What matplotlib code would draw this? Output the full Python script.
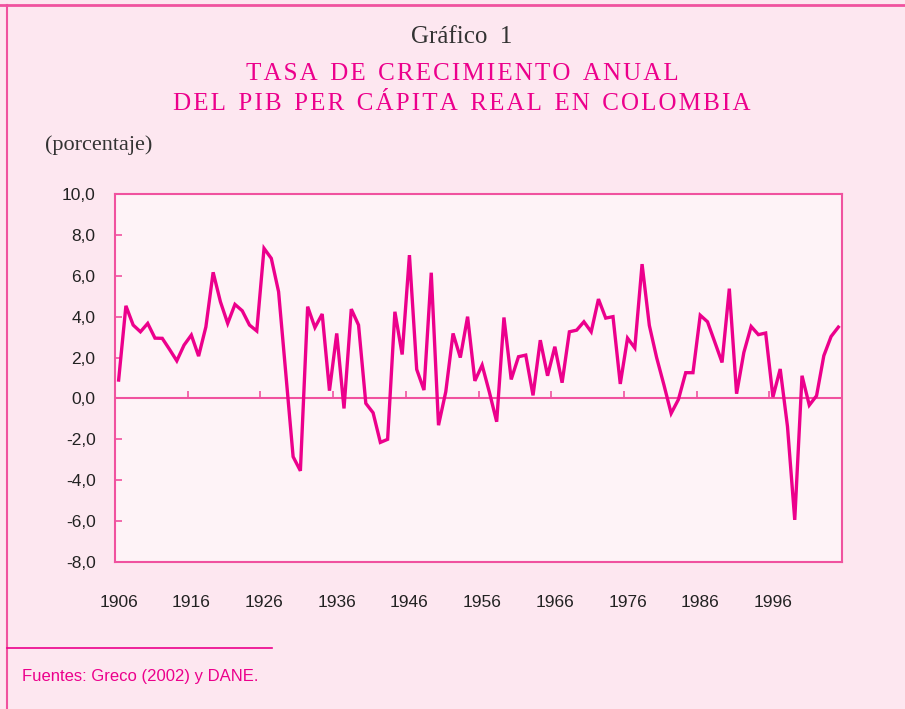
import matplotlib
matplotlib.use("Agg")
import matplotlib.pyplot as plt
from matplotlib import font_manager
from matplotlib.lines import Line2D

# tasa de crecimiento anual del PIB per capita real (%), 1906-2005
years = list(range(1906, 2006))
growth = [0.9, 4.53, 3.59, 3.26, 3.67, 2.95, 2.94, 2.4, 1.84, 2.61,
          3.1, 2.07, 3.5, 6.17, 4.73, 3.67, 4.6, 4.29, 3.59, 3.3,
          7.34, 6.85, 5.22, 1.2, -2.85, -3.54, 4.49, 3.47, 4.13, 0.38,
          3.18, -0.49, 4.37, 3.59, -0.24, -0.70, -2.15, -2.0, 4.24, 2.15,
          7.01, 1.42, 0.41, 6.15, -1.31, 0.33, 3.18, 2.0, 4.0, 0.86,
          1.63, 0.3, -1.14, 3.96, 0.93, 2.04, 2.12, 0.15, 2.85, 1.11,
          2.53, 0.77, 3.26, 3.34, 3.75, 3.26, 4.86, 3.93, 4.0, 0.71,
          2.95, 2.47, 6.57, 3.57, 2.0, 0.67, -0.73, -0.05, 1.26, 1.26,
          4.07, 3.75, 2.76, 1.76, 5.37, 0.23, 2.25, 3.52, 3.12, 3.2,
          0.07, 1.44, -1.37, -5.94, 1.11, -0.33, 0.13, 2.09, 3.03, 3.49]

xlabels = list(range(1906, 2006, 10))
yvals = [10, 8, 6, 4, 2, 0, -2, -4, -6, -8]
ylabels = [f"{v:.1f}".replace(".", ",") for v in yvals]

names = {f.name for f in font_manager.fontManager.ttflist}
sans = "Liberation Sans Narrow" if "Liberation Sans Narrow" in names else "Liberation Sans"
serif = "Liberation Serif"

pink = "#ec008c"
frame = "#f0529f"
bg = "#fde7f0"
plotbg = "#fef3f7"


def tracked(s):
    # a bit of letter spacing, like the printed small caps
    return "\u200a".join(s).replace("\u200a \u200a", "\u2002")


fig = plt.figure(figsize=(9.05, 7.09), dpi=100, facecolor=bg)
ax = fig.add_axes([115/905, 1-562/709, 727/905, 368/709], facecolor=plotbg)

ax.plot(years, growth, color=pink, lw=2.4, solid_joinstyle="miter", zorder=3)
ax.axhline(0, color=frame, lw=1.5, zorder=2)

ax.set_xlim(1905.5, 2005.5)
ax.set_ylim(-8, 10)
ax.set_yticks(yvals)
ax.set_yticklabels(ylabels)
ax.set_xticks(xlabels)
ax.set_xticklabels([str(y) for y in xlabels])

for s in ax.spines.values():
    s.set_color(frame)
    s.set_linewidth(1.5)

ax.tick_params(axis="y", direction="in", length=5, width=1.2, color=frame,
               pad=14, labelsize=12.5, labelcolor="#222222")
ax.tick_params(axis="x", length=0, pad=24, labelsize=12.5, labelcolor="#222222")
for lab in ax.get_xticklabels() + ax.get_yticklabels():
    lab.set_family(sans)

# category ticks on the zero line
zx = ax.secondary_xaxis(8/18)
zx.set_xticks([y - 0.5 for y in xlabels[1:]])
zx.tick_params(direction="in", length=5, width=1.2, color=frame, labelbottom=False)
zx.spines["bottom"].set_visible(False)

fig.text(462/905, 1-37/709, "Gráfico\u20021", ha="center", va="center",
         family=serif, fontsize=18, color="#333333")
fig.text(462/905, 1-74/709, tracked("TASA DE CRECIMIENTO ANUAL"), ha="center",
         va="center", family=serif, fontsize=18, color=pink)
fig.text(462/905, 1-104/709, tracked("DEL PIB PER CÁPITA REAL EN COLOMBIA"),
         ha="center", va="center", family=serif, fontsize=18, color=pink)
fig.text(45/905, 1-145/709, "(porcentaje)", ha="left", va="center",
         family=serif, fontsize=16, color="#333333")
fig.text(22/905, 1-676/709, "Fuentes: Greco (2002) y DANE.", ha="left", va="center",
         family=sans, fontsize=12, color=pink)

fig.add_artist(Line2D([0, 1], [1-5/709, 1-5/709], color=frame, lw=2))
fig.add_artist(Line2D([7/905, 7/905], [0, 1-5/709], color=frame, lw=1.5))
fig.add_artist(Line2D([7/905, 272/905], [1-648/709, 1-648/709], color=pink, lw=1.2))

fig.savefig("out.png", dpi=100, facecolor=bg)
